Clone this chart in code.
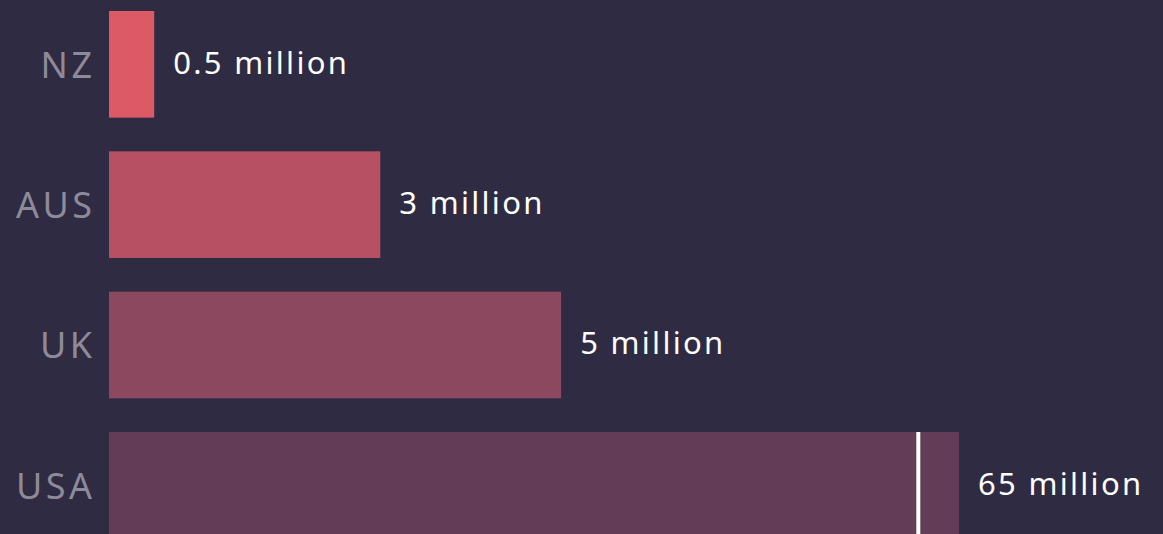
<!DOCTYPE html>
<html>
<head>
<meta charset="utf-8">
<script src="https://cdn.jsdelivr.net/npm/d3@7"></script>
<style>
  html, body { margin: 0; padding: 0; background: #2e2b42; overflow: hidden; }
  svg { display: block; }
</style>
</head>
<body>
<div id="chart"></div>
<script>
// DATA
const countries = ["NZ", "AUS", "UK", "USA"];
const values = [0.5, 3, 5, 65]; // millions
const valueLabels = ["0.5 million", "3 million", "5 million", "65 million"];
const colors = ["#dc5966", "#b65062", "#8c485f", "#633c57"];

// the x axis is cut off: bars past this value are truncated and get a break mark
const axisMax = 9.4;
const breakAt = 8.95;

// SIZE
const width = 1163;
const height = 534;
const margin = { top: 11, left: 109, right: 204 };
const fontFamily = "'Noto Sans', sans-serif";

const svg = d3
  .select("#chart")
  .append("svg")
  .attr("width", width)
  .attr("height", height);

// SCALES
const xScale = d3
  .scaleLinear()
  .domain([0, axisMax])
  .range([margin.left, width - margin.right])
  .clamp(true);

const yScale = d3
  .scaleBand()
  .domain(countries)
  .range([margin.top, margin.top + 140.33 * 3.76])
  .paddingInner(0.24)
  .paddingOuter(0);

const rows = countries.map((c, i) => ({
  country: c,
  value: values[i],
  label: valueLabels[i],
  color: colors[i]
}));

// BARS
svg
  .selectAll(".bar")
  .data(rows)
  .enter()
  .append("rect")
  .attr("class", "bar")
  .attr("x", xScale(0))
  .attr("y", d => yScale(d.country))
  .attr("width", d => xScale(d.value) - xScale(0))
  .attr("height", yScale.bandwidth())
  .attr("fill", d => d.color);

// BREAK MARK on truncated bars
svg
  .selectAll(".break")
  .data(rows.filter(d => d.value > axisMax))
  .enter()
  .append("rect")
  .attr("class", "break")
  .attr("x", xScale(breakAt) - 2)
  .attr("y", d => yScale(d.country))
  .attr("width", 4)
  .attr("height", yScale.bandwidth())
  .attr("fill", "#ffffff");

// COUNTRY LABELS (letter-spacing adds trailing space, so shift back by it)
const labelSpacing = 3.5;
svg
  .selectAll(".country")
  .data(rows)
  .enter()
  .append("text")
  .attr("class", "country")
  .attr("x", xScale(0) - 17 + labelSpacing)
  .attr("y", d => yScale(d.country) + yScale.bandwidth() / 2 + 13.5)
  .attr("text-anchor", "end")
  .attr("font-family", fontFamily)
  .attr("font-size", 36)
  .attr("letter-spacing", labelSpacing)
  .attr("fill", "#8e8a9a")
  .text(d => d.country);

// VALUE LABELS
svg
  .selectAll(".value")
  .data(rows)
  .enter()
  .append("text")
  .attr("class", "value")
  .attr("x", d => xScale(d.value) + 19)
  .attr("y", d => yScale(d.country) + yScale.bandwidth() / 2 + 9.5)
  .attr("font-family", fontFamily)
  .attr("font-size", 31)
  .attr("letter-spacing", 2.3)
  .attr("fill", "#ffffff")
  .text(d => d.label);
</script>
</body>
</html>
